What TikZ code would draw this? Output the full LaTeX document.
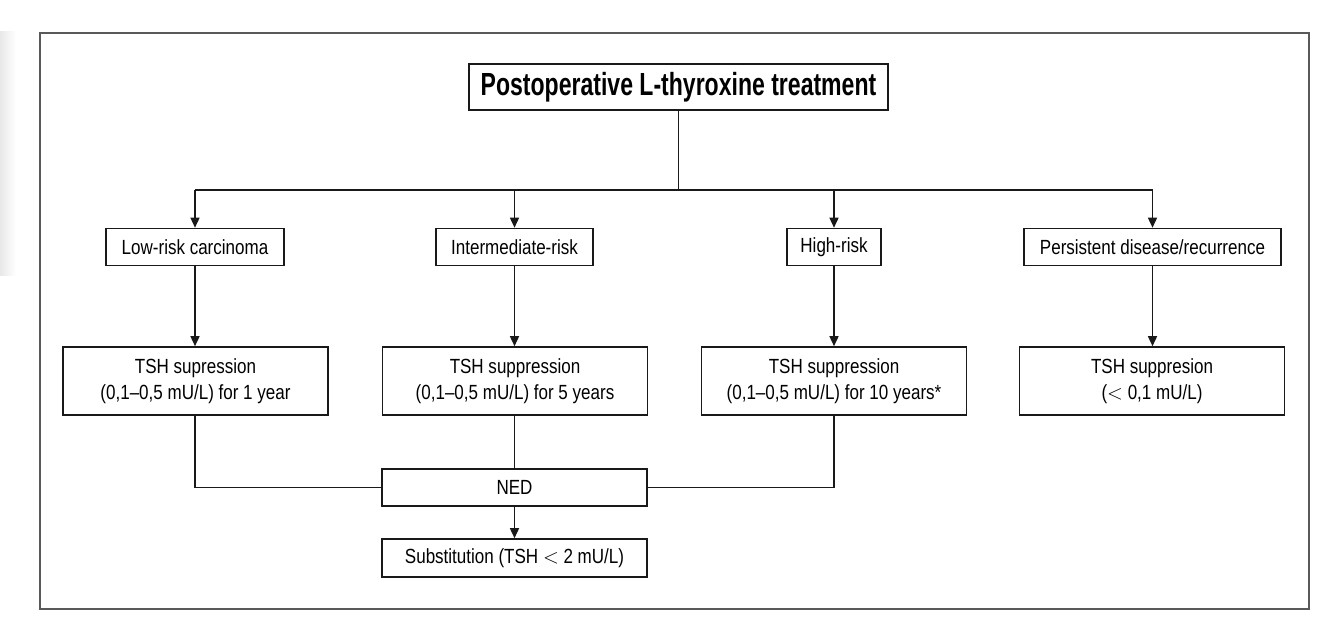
\documentclass[tikz,border=0pt]{standalone}
\usepackage{fontspec}
\setmainfont{Liberation Sans}[FakeStretch=0.83]
\newfontfamily\titlefont{Liberation Sans}[FakeStretch=0.72]
\usetikzlibrary{arrows.meta}
\begin{document}
\begin{tikzpicture}[x=1pt,y=-1pt,
  box/.style={draw=black!90,line width=1.6pt,inner sep=0pt,minimum height=37pt,
    font=\fontsize{20.5}{26}\selectfont,align=center},
  tbox/.style={box,minimum height=68pt,minimum width=265pt},
  conn/.style={draw=black!90,line width=1.5pt},
  arr/.style={conn,-{Triangle[length=10pt,width=9pt]}}]
\useasboundingbox (0,0) rectangle (1340,639);
\shade[left color=black!9,right color=white] (0,32) rectangle (16,275);
\draw[draw=black!65,line width=1.6pt] (40,33) rectangle (1309,609);
\node[box,minimum width=419pt,minimum height=46pt,font=\titlefont\bfseries\fontsize{32}{34}\selectfont] (title) at (678.5,87) {Postoperative L-thyroxine treatment};
\node[box,minimum width=178pt] (low) at (195,247) {Low-risk carcinoma};
\node[box,minimum width=157pt] (inter) at (514.5,247) {Intermediate-risk};
\node[box,minimum width=94pt] (high) at (834,247) {High-risk};
\node[box,minimum width=257pt] (pers) at (1152.5,247) {Persistent disease/recurrence};
\node[tbox] (tsh1) at (195.5,381) {TSH supression\\(0,1--0,5 mU/L) for 1 year};
\node[tbox] (tsh2) at (515,381) {TSH suppression\\(0,1--0,5 mU/L) for 5 years};
\node[tbox] (tsh3) at (834,381) {TSH suppression\\(0,1--0,5 mU/L) for 10 years*};
\node[tbox] (tsh4) at (1152,381) {TSH suppresion\\($<$ 0,1 mU/L)};
\node[box,minimum width=265pt] (ned) at (514.5,487.5) {NED};
\node[box,minimum width=265pt,minimum height=38pt] (sub) at (514.5,558) {Substitution (TSH $<$ 2 mU/L)};
\coordinate (bus) at (0,190);
\draw[conn] (title.south) -- (title.south |- bus);
\draw[conn] (low |- bus) -- (pers |- bus);
\draw[arr] (low |- bus) -- (low.north);
\draw[arr] (inter |- bus) -- (inter.north);
\draw[arr] (high |- bus) -- (high.north);
\draw[arr] (pers |- bus) -- (pers.north);
\draw[arr] (low.south) -- (tsh1.north -| low);
\draw[arr] (inter.south) -- (tsh2.north -| inter);
\draw[arr] (high.south) -- (tsh3.north -| high);
\draw[arr] (pers.south) -- (tsh4.north -| pers);
\draw[conn] (tsh1.south -| low) |- (ned.west);
\draw[conn] (tsh2.south -| inter) -- (ned.north -| inter);
\draw[conn] (tsh3.south -| high) |- (ned.east);
\draw[arr] (ned.south) -- (sub.north);
\end{tikzpicture}
\end{document}
